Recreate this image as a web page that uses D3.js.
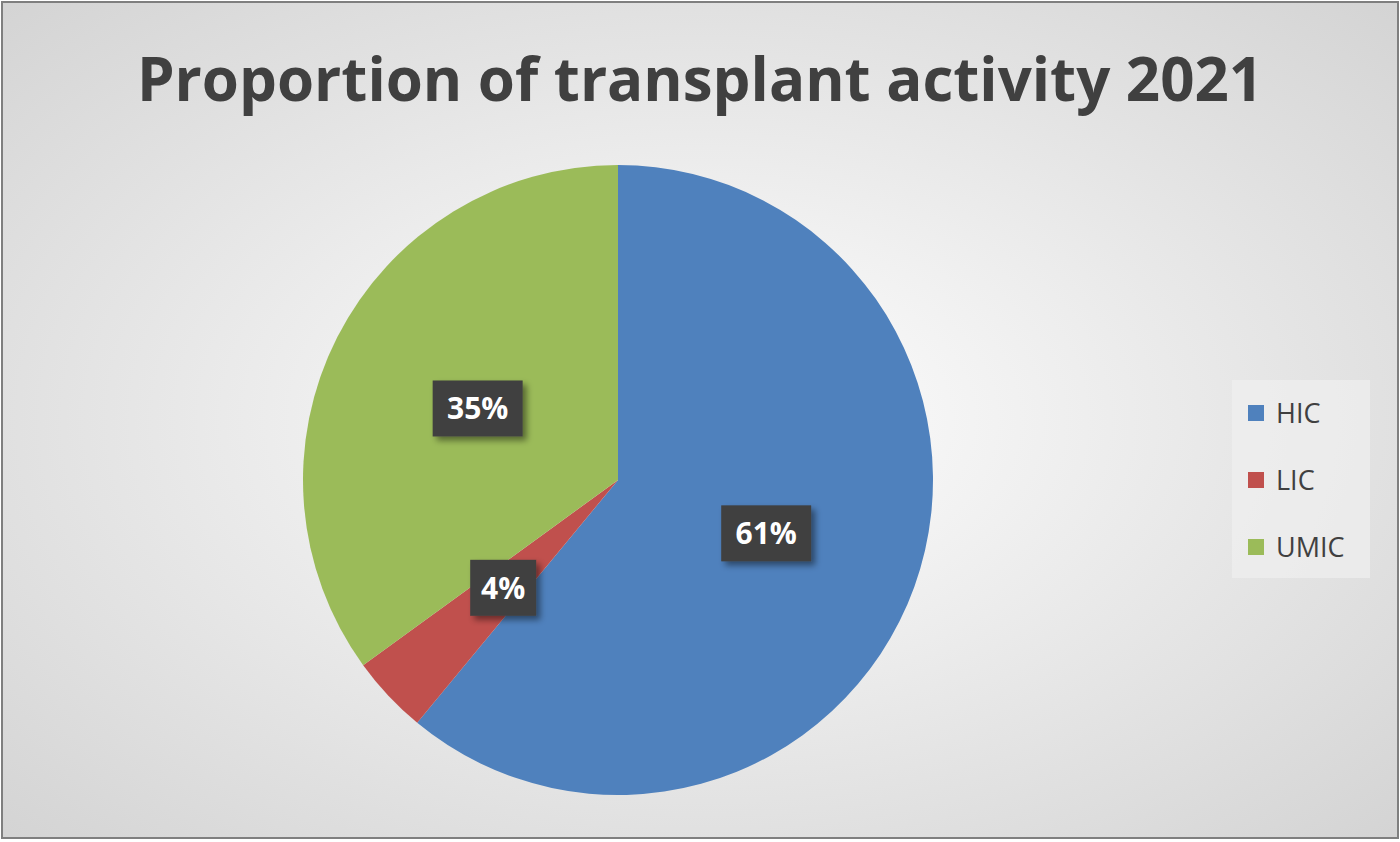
<!DOCTYPE html>
<html><head><meta charset="utf-8">
<script src="https://cdn.jsdelivr.net/npm/d3@7"></script>
<style>body{margin:0;background:#fff}svg{display:block}</style>
</head><body>
<svg id="chart" width="1400" height="842"></svg>
<script>
const categories = ['HIC', 'LIC', 'UMIC'];
const values = [61, 4, 35];
const colors = ['#4f81bd', '#c0504d', '#9bbb59'];

const svg = d3.select('#chart');
const defs = svg.append('defs');
let grad = defs.append('radialGradient').attr('id', 'bg')
  .attr('cx', '50%').attr('cy', '50%').attr('r', '70%');
grad.append('stop').attr('offset', '0%').attr('stop-color', '#ffffff');
grad.append('stop').attr('offset', '100%').attr('stop-color', '#d4d4d4');
let shadow = defs.append('filter').attr('id', 'sh').attr('x', '-30%').attr('y', '-30%').attr('width', '170%').attr('height', '170%');
shadow.append('feDropShadow').attr('dx', 4).attr('dy', 4).attr('stdDeviation', 3).attr('flood-opacity', 0.45);

svg.append('rect').attr('x', 2).attr('y', 2).attr('width', 1396).attr('height', 836)
  .attr('fill', 'url(#bg)').attr('stroke', '#7f7f7f').attr('stroke-width', 2);

svg.append('text').attr('x', 700).attr('y', 101).attr('text-anchor', 'middle')
  .attr('font-family', 'Open Sans, sans-serif').attr('font-weight', 'bold')
  .attr('font-size', 60).attr('fill', '#404040')
  .text('Proportion of transplant activity 2021');

const cx = 618, cy = 480, r = 315;
const pie = d3.pie().sort(null).value(d => d);
const arcs = pie(values);
const arc = d3.arc().innerRadius(0).outerRadius(r);
const labelArc = d3.arc().innerRadius(r * 0.5).outerRadius(r * 0.5);
const g = svg.append('g').attr('transform', 'translate(' + cx + ',' + cy + ')');
g.selectAll('path').data(arcs).enter().append('path')
  .attr('d', arc).attr('fill', (d, i) => colors[i]);

const lbl = g.selectAll('g.lbl').data(arcs).enter().append('g')
  .attr('class', 'lbl')
  .attr('transform', d => 'translate(' + labelArc.centroid(d) + ')');
lbl.append('rect')
  .attr('x', d => d.data >= 10 ? -45 : -33).attr('y', -28)
  .attr('width', d => d.data >= 10 ? 90 : 66).attr('height', 56)
  .attr('fill', '#404040').attr('filter', 'url(#sh)');
lbl.append('text').attr('text-anchor', 'middle').attr('dy', 11)
  .attr('font-family', 'Open Sans, sans-serif').attr('font-weight', 'bold')
  .attr('font-size', 30).attr('fill', '#fff')
  .text(d => d.data + '%');

const legend = svg.append('g');
legend.append('rect').attr('x', 1232).attr('y', 380).attr('width', 138).attr('height', 198)
  .attr('fill', '#f0f0f0').attr('opacity', 0.7);
const ly = d3.scalePoint().domain(categories).range([413, 547]);
categories.forEach((c, i) => {
  legend.append('rect').attr('x', 1248).attr('y', ly(c) - 8).attr('width', 16).attr('height', 16)
    .attr('fill', colors[i]);
  legend.append('text').attr('x', 1276).attr('y', ly(c) + 10)
    .attr('font-family', 'Open Sans, sans-serif').attr('font-size', 27).attr('fill', '#404040')
    .text(c);
});
</script>
</body></html>
